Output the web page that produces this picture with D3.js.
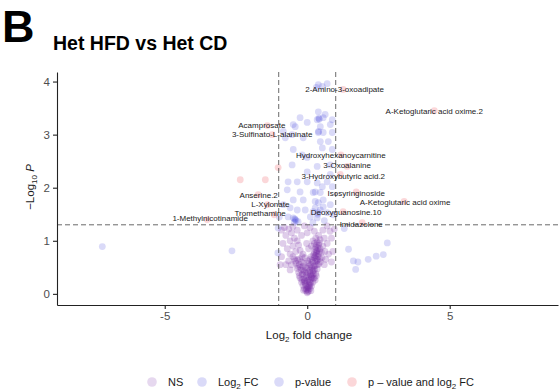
<!DOCTYPE html>
<html>
<head>
<meta charset="utf-8">
<script src="https://cdn.jsdelivr.net/npm/d3@7"></script>
<style>
  html, body { margin: 0; padding: 0; background: #fff; }
  svg { display: block; font-family: "Liberation Sans", Arial, Helvetica, sans-serif; }
</style>
</head>
<body>
<svg id="chart" width="560" height="391"></svg>
<script>
// ---- data: log2 fold change / -log10 p pairs ----
const nsPoints = [
  [0.0,0.02],[0.05,0.05],[-0.05,0.06],[0.1,0.1],[-0.1,0.1],[0.02,0.12],[0.15,0.15],[-0.15,0.16],
  [0.07,0.18],[-0.07,0.2],[0.2,0.22],[-0.2,0.22],[0.0,0.25],[0.12,0.27],[-0.12,0.28],[0.25,0.3],
  [-0.25,0.3],[0.05,0.32],[-0.03,0.35],[0.18,0.35],[-0.18,0.36],[0.03,0.08],[-0.02,0.15],[0.08,0.22],
  [-0.09,0.25],[0.16,0.3],[0.28,0.26],[-0.28,0.34],[0.02,0.4],[0.11,0.36],[-0.14,0.45],[0.22,0.38],
  [0.3,0.38],[-0.3,0.4],[0.1,0.4],[-0.1,0.42],[0.22,0.44],[-0.22,0.45],[0.35,0.47],[-0.35,0.48],
  [0.0,0.48],[0.15,0.5],[-0.15,0.52],[0.28,0.53],[-0.28,0.55],[0.4,0.56],[-0.4,0.58],[0.05,0.58],
  [0.2,0.6],[-0.2,0.6],[0.33,0.62],[-0.33,0.64],[0.1,0.65],[-0.08,0.68],[0.25,0.68],[-0.45,0.66],
  [0.45,0.66],[0.3,0.72],[0.4,0.75],[0.25,0.78],[0.35,0.82],[0.45,0.85],[0.3,0.88],[0.4,0.92],
  [0.25,0.95],[0.35,0.98],[0.45,1.02],[0.3,1.05],[0.4,1.1],[0.5,0.78],[0.55,0.9],[0.2,1.0],
  [0.38,0.7],[0.32,0.8],[0.42,0.96],[0.28,0.6],[0.36,0.55],[0.18,0.48],[0.12,0.55],[0.24,0.52],
  [-0.5,0.7],[-0.6,0.75],[-0.4,0.8],[-0.7,0.85],[-0.5,0.9],[-0.6,1.0],[-0.45,1.05],[-0.75,1.1],
  [-0.55,1.15],[-0.35,1.2],[-0.65,1.22],[-0.8,1.25],[-0.3,0.92],[-0.85,0.95],[-0.42,0.62],[-0.55,0.55],
  [-0.9,1.2],[-0.2,1.1],[0.0,1.15],[0.1,1.25],[0.55,1.2],[0.7,1.28],[0.8,1.18],[-0.1,1.28],
  [0.6,1.05],[0.7,0.95],[0.85,1.05],[0.75,0.75],[0.9,0.8],[0.65,0.65],[-0.95,0.55],[-0.75,0.55],
  [-0.6,0.45],[0.6,0.55],[0.85,0.6],[-0.9,0.7],[-0.25,0.82],[-0.15,0.75],[0.05,0.85],[-0.02,0.95],
  [0.15,0.9],[-0.35,1.0],[0.62,0.8],[0.52,0.68],[-0.65,0.62],[0.95,1.22],[-0.5,1.27],[0.25,1.18],
  [0.01,0.04],[-0.03,0.09],[0.06,0.13],[-0.06,0.17],[0.12,0.2],[-0.11,0.23],[0.04,0.27],[-0.04,0.3],
  [0.14,0.33],[-0.16,0.38],[0.09,0.44],[-0.06,0.5],[0.19,0.42],[-0.24,0.5],[0.26,0.46],[0.07,0.52],
  [-0.12,0.58],[0.17,0.63],[-0.27,0.66],[0.31,0.66],[0.14,0.7],[-0.18,0.7],[0.22,0.74],[0.33,0.76],
  [0.28,0.84],[0.38,0.86],[0.33,0.92],[0.43,0.8],[0.27,0.72],[0.36,0.64],[0.02,0.62],[-0.05,0.4],
  [0.13,0.06],[-0.13,0.07],[0.09,0.16],[-0.19,0.27],[0.21,0.29],[0.32,0.34],[-0.32,0.52],[0.46,0.6]
];
const fcPoints = [
  [-7.19,0.89],[-2.64,0.81],[-1.03,0.77],[-1.02,1.24],
  [1.45,0.84],[1.62,0.62],[1.78,0.60],[1.70,0.46],[2.14,0.65],[2.42,0.71],[2.67,0.74],[2.81,0.96],[1.30,1.23]
];
const pvalPoints = [
  [0.39,3.94],[0.70,3.96],[0.53,3.91],[0.32,3.89],[0.39,3.43],[0.63,3.38],[0.56,3.32],[0.35,3.28],
  [0.88,3.28],[-0.25,3.32],[0.0,3.23],[0.46,3.15],[0.81,3.19],[0.56,3.04],[0.88,3.04],[-0.42,3.15],
  [-0.53,3.0],[-0.84,3.06],[-0.14,2.94],[0.46,2.87],[0.74,2.87],[0.88,2.72],[0.53,2.75],[-0.49,2.72],
  [-0.77,2.94],[-0.18,2.62],[0.0,2.57],[-0.53,2.43],[0.35,2.40],[0.81,2.43],[0.0,2.30],[0.81,2.25],
  [-0.67,2.11],[-0.35,2.11],[0.0,2.11],[0.35,2.09],[0.70,2.11],[-0.70,1.96],[-0.25,1.92],[0.21,1.91],
  [0.46,1.91],[0.88,2.02],[-0.49,1.77],[-0.14,1.77],[0.28,1.74],[0.39,1.72],[0.56,1.64],[-0.84,1.68],
  [-0.60,1.62],[-0.35,1.58],[-0.07,1.58],[0.21,1.55],[0.46,1.58],[0.70,1.53],[0.91,1.49],[-0.67,1.45],
  [-0.49,1.43],[-0.32,1.36],[0.11,1.45],[0.35,1.43],[-0.98,1.45],[-0.42,1.40],[-0.39,1.38],[0.39,1.53],
  [0.28,1.62],[0.42,3.29],[0.39,3.04],[-0.49,3.19],[0.53,2.02],[0.28,1.92],[0.81,1.68],[0.56,1.77],
  [-0.45,1.35],[0.2,1.34],[0.6,1.38],[-0.44,1.41],[0.37,1.50],[0.40,3.06],[0.41,3.31]
];
const bothPoints = [
  [1.26,3.85],[4.46,3.45],[-1.40,3.17],[-1.23,3.00],[1.18,2.62],[1.40,2.40],[1.16,2.25],[1.72,1.92],
  [3.40,1.74],[1.26,1.55],[1.93,1.34],[-1.72,1.87],[-1.40,1.68],[-1.16,1.49],[-3.51,1.40],
  [-2.35,2.15],[-1.47,2.15],[-1.02,2.38]
];
const labelNames = [
  "2-Amino-3-oxoadipate","A-Ketoglutaric acid oxime.2","Acamprosate","3-Sulfinato-L-alaninate",
  "Hydroxyhexanoycarnitine","3-Oxoalanine","3-Hydroxybutyric acid.2","Isosyringinoside",
  "A-Ketoglutaric acid oxime","Deoxyguanosine.10","Imidazolone","Anserine.2","L-Xylonate",
  "Tromethamine","1-Methylnicotinamide"
];
const xTicks = [-5, 0, 5];
const yTicks = [0, 1, 2, 3, 4];
const fcCutoff = 1;
const pCutoff = 0.05;
const legendItems = ["NS", "Log2 FC", "p-value", "p – value and log2 FC"];

// ---- layout ----
const svg = d3.select("#chart");
const x = d3.scaleLinear().domain([-8.78, 8.8]).range([57, 558]);
const y = d3.scaleLinear().domain([-0.21, 4.18]).range([305, 72]);

const colNS = "#7428a6", colBlue = "#3030d8", colRed = "#e8202e";
const ptAlpha = 0.18, nsAlpha = 0.23, r = 3.4;

// heading
svg.append("text").attr("x", 2).attr("y", 42).attr("font-size", 45).attr("font-weight", "bold")
  .attr("fill", "#000").text("B");
svg.append("text").attr("x", 53).attr("y", 50).attr("font-size", 19.5).attr("font-weight", "bold")
  .attr("fill", "#000").text("Het HFD vs Het CD");

// points
const groups = [
  [nsPoints, colNS, nsAlpha], [fcPoints, colBlue, ptAlpha], [pvalPoints, colBlue, ptAlpha], [bothPoints, colRed, ptAlpha]
];
groups.forEach(([pts, col, a]) => {
  svg.append("g").selectAll("circle").data(pts).join("circle")
    .attr("cx", d => x(d[0])).attr("cy", d => y(d[1])).attr("r", r)
    .attr("fill", col).attr("fill-opacity", a);
});

// cutoff lines
const dashG = svg.append("g").attr("stroke", "#444").attr("stroke-width", 0.8)
  .attr("stroke-dasharray", "5,3").attr("fill", "none");
[-fcCutoff, fcCutoff].forEach(v => {
  dashG.append("line").attr("x1", x(v)).attr("x2", x(v)).attr("y1", y.range()[1]).attr("y2", y.range()[0]);
});
dashG.append("line").attr("x1", x.range()[0]).attr("x2", x.range()[1])
  .attr("y1", y(-Math.log10(pCutoff))).attr("y2", y(-Math.log10(pCutoff)));

// point labels (small nudges keep neighbouring names apart)
const nudge = {
  "2-Amino-3-oxoadipate": [1.5, 0], "Acamprosate": [-5.5, 0], "3-Oxoalanine": [0, -1],
  "3-Hydroxybutyric acid.2": [3, 1.5], "Isosyringinoside": [0, 1], "A-Ketoglutaric acid oxime": [1, 1],
  "Deoxyguanosine.10": [3, 1], "Imidazolone": [-1, 1], "Anserine.2": [0.5, 1], "L-Xylonate": [3, 0],
  "Tromethamine": [-14, -2], "1-Methylnicotinamide": [3, -1]
};
svg.append("g").selectAll("text").data(labelNames).join("text")
  .attr("x", (d, i) => x(bothPoints[i][0]) + (nudge[d] ? nudge[d][0] : 0))
  .attr("y", (d, i) => y(bothPoints[i][1]) + (nudge[d] ? nudge[d][1] : 0))
  .attr("dy", "0.35em").attr("text-anchor", "middle")
  .attr("font-size", 8).attr("fill", "#1a1a1a").text(d => d);

// axes
const xAxis = svg.append("g").attr("transform", `translate(0,${y.range()[0]})`)
  .call(d3.axisBottom(x).tickValues(xTicks).tickSize(4).tickSizeOuter(0).tickPadding(3)
    .tickFormat(d => d < 0 ? "-" + Math.abs(d) : String(d)));
const yAxis = svg.append("g").attr("transform", `translate(${x.range()[0]},0)`)
  .call(d3.axisLeft(y).tickValues(yTicks).tickSize(4).tickSizeOuter(0).tickPadding(3)
    .tickFormat(d3.format("d")));
[xAxis, yAxis].forEach(g => {
  g.select(".domain").attr("stroke", "#222").attr("stroke-width", 1.1);
  g.selectAll(".tick line").attr("stroke", "#222").attr("stroke-width", 1.1);
  g.selectAll(".tick text").attr("font-size", 11.5).attr("fill", "#4d4d4d")
    .attr("font-family", "'Liberation Sans', Arial, sans-serif");
});

// axis titles
const xt = svg.append("text").attr("x", 309).attr("y", 339).attr("text-anchor", "middle")
  .attr("font-size", 11.5).attr("fill", "#1a1a1a");
xt.append("tspan").text("Log");
xt.append("tspan").attr("font-size", 8).attr("dy", 3).text("2");
xt.append("tspan").attr("dy", -3).text(" fold change");

const yt = svg.append("text").attr("transform", "translate(34,187) rotate(-90)")
  .attr("text-anchor", "middle").attr("font-size", 11.5).attr("fill", "#1a1a1a");
yt.append("tspan").text("−Log");
yt.append("tspan").attr("font-size", 8).attr("dy", 3).text("10");
yt.append("tspan").attr("dy", -3).text(" ");
yt.append("tspan").attr("font-style", "italic").text("P");

// legend
const legendCols = [colNS, colBlue, colBlue, colRed];
const legendX = [152, 202, 279, 352];
const lg = svg.append("g");
legendItems.forEach((lab, i) => {
  lg.append("circle").attr("cx", legendX[i]).attr("cy", 382).attr("r", 4.8)
    .attr("fill", legendCols[i]).attr("fill-opacity", ptAlpha);
  const t = lg.append("text").attr("x", legendX[i] + 16).attr("y", 382).attr("dy", "0.35em")
    .attr("font-size", 11).attr("fill", "#1a1a1a");
  const stem = lab.includes("log2") ? "log" : (lab.includes("Log2") ? "Log" : null);
  if (stem) {
    const parts = lab.split(stem + "2");
    t.append("tspan").text(parts[0] + stem);
    t.append("tspan").attr("font-size", 8).attr("dy", 3).text("2");
    t.append("tspan").attr("dy", -3).text(parts[1]);
  } else {
    t.text(lab);
  }
});
</script>
</body>
</html>
